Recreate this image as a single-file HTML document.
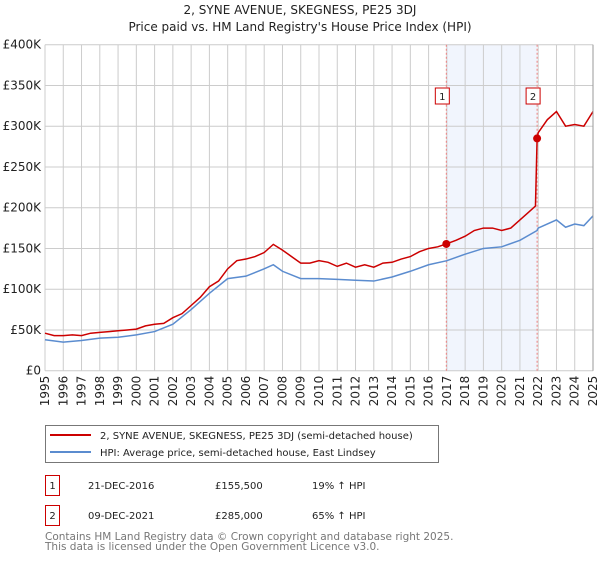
<!DOCTYPE html>
<html><head><meta charset="utf-8"><style>
body{margin:0;background:#fff;font-family:"DejaVu Sans","Liberation Sans",sans-serif;}
svg text{font-family:"DejaVu Sans","Liberation Sans",sans-serif;}
</style></head><body>
<svg id="c" width="600" height="560" viewBox="0 0 600 560">
<text x="300" y="14" text-anchor="middle" font-size="12" fill="#222">2, SYNE AVENUE, SKEGNESS, PE25 3DJ</text>
<text x="300" y="31" text-anchor="middle" font-size="12" fill="#222">Price paid vs. HM Land Registry's House Price Index (HPI)</text>
<g id="plot"></g>
<g>
<rect x="45.5" y="425.5" width="393" height="37" fill="#fff" stroke="#777"/>
<line x1="50" y1="435" x2="91" y2="435" stroke="#cc0000" stroke-width="2"/>
<text x="100" y="439" font-size="10" fill="#222">2, SYNE AVENUE, SKEGNESS, PE25 3DJ (semi-detached house)</text>
<line x1="50" y1="452" x2="91" y2="452" stroke="#5b8ccf" stroke-width="2"/>
<text x="100" y="456" font-size="10" fill="#222">HPI: Average price, semi-detached house, East Lindsey</text>
</g>
<g font-size="10" fill="#222">
<rect x="45.5" y="475.5" width="14" height="20" fill="#fff" stroke="#cc0000"/>
<text x="52.5" y="489" text-anchor="middle">1</text>
<text x="88" y="489">21-DEC-2016</text><text x="215" y="489">£155,500</text><text x="312" y="489">19% ↑ HPI</text>
<rect x="45.5" y="505.5" width="14" height="20" fill="#fff" stroke="#cc0000"/>
<text x="52.5" y="519" text-anchor="middle">2</text>
<text x="88" y="519">09-DEC-2021</text><text x="215" y="519">£285,000</text><text x="312" y="519">65% ↑ HPI</text>
</g>
<text x="45" y="540" font-size="10.5" fill="#777">Contains HM Land Registry data © Crown copyright and database right 2025.</text>
<text x="45" y="550" font-size="10.5" fill="#777">This data is licensed under the Open Government Licence v3.0.</text>
</svg>
<script>
const yTicks=[0,50000,100000,150000,200000,250000,300000,350000,400000];
const yTickLabels=["£0","£50K","£100K","£150K","£200K","£250K","£300K","£350K","£400K"];
const xYears=[1995,1996,1997,1998,1999,2000,2001,2002,2003,2004,2005,2006,2007,2008,2009,2010,2011,2012,2013,2014,2015,2016,2017,2018,2019,2020,2021,2022,2023,2024,2025];
const redT=[1995,1995.5,1996,1996.5,1997,1997.5,1998,1998.5,1999,1999.5,2000,2000.5,2001,2001.5,2002,2002.5,2003,2003.5,2004,2004.5,2005,2005.5,2006,2006.5,2007,2007.5,2008,2008.5,2009,2009.5,2010,2010.5,2011,2011.5,2012,2012.5,2013,2013.5,2014,2014.5,2015,2015.5,2016,2016.5,2016.97,2017.5,2018,2018.5,2019,2019.5,2020,2020.5,2021,2021.5,2021.85,2021.94,2022,2022.5,2023,2023.5,2024,2024.5,2025];
const redV=[46,43,43,44,43,46,47,48,49,50,51,55,57,58,65,70,80,90,103,110,125,135,137,140,145,155,148,140,132,132,135,133,128,132,127,130,127,132,133,137,140,146,150,152,155.5,160,165,172,175,175,172,175,185,195,202,285,292,308,318,300,302,300,318];
const blueT=[1995,1996,1997,1998,1999,2000,2001,2002,2003,2004,2005,2006,2007,2007.5,2008,2009,2010,2011,2012,2013,2014,2015,2016,2017,2018,2019,2020,2021,2021.94,2022,2023,2023.5,2024,2024.5,2025];
const blueV=[38,35,37,40,41,44,48,57,75,95,113,116,125,130,122,113,113,112,111,110,115,122,130,135,143,150,152,160,172,175,185,176,180,178,190];
const saleT=[2016.97,2021.94];
const saleV=[155.5,285];
const saleLabels=["1","2"];
const X0=45,X1=593,Y0=370.7,Y1=44.7;
const xs=t=>X0+(t-1995)/30*(X1-X0);
const ys=v=>Y0-v/400000*(Y0-Y1);
const NS="http://www.w3.org/2000/svg";
const g=document.getElementById('plot');
function mk(tag,attrs,parent){const e=document.createElementNS(NS,tag);for(const k in attrs)e.setAttribute(k,attrs[k]);(parent||g).appendChild(e);return e;}
const sh=mk('rect',{x:xs(saleT[0]),y:Y1,width:xs(saleT[1])-xs(saleT[0]),height:Y0-Y1,fill:'#eef2fc',opacity:0.8});


yTicks.forEach((v,i)=>{
 const l=mk('line',{x1:X0,x2:X1,y1:ys(v),y2:ys(v),stroke:'#ccc'});
 
 
 const t=mk('text',{x:X0-4,y:ys(v)+4,'text-anchor':'end','font-size':12,fill:'#222'});
 t.textContent=yTickLabels[i];
 
 
});
xYears.forEach(yr=>{
 const l=mk('line',{x1:xs(yr),x2:xs(yr),y1:Y1,y2:Y0,stroke:'#ccc'});
 
 
 const t=mk('text',{x:0,y:0,'text-anchor':'end','font-size':12,fill:'#222',transform:`translate(${xs(yr)+4},${Y0+5}) rotate(-90)`});
 t.textContent=yr;
 
 
});
saleT.forEach((t,i)=>{
 const l=mk('line',{x1:xs(t),x2:xs(t),y1:Y1,y2:Y0,stroke:'#f08080','stroke-dasharray':'2,2'});
 
 
 const r=mk('rect',{x:xs(t)-11,y:88,width:14,height:16,fill:'#fff',stroke:'#cc0000'});
 
 
 const tx=mk('text',{x:xs(t)-4,y:100,'text-anchor':'middle','font-size':10,fill:'#222'});
 tx.textContent=saleLabels[i];
 
 
});
const bp=mk('polyline',{points:blueT.map((t,i)=>xs(t)+','+ys(blueV[i]*1000)).join(' '),fill:'none',stroke:'#5b8ccf','stroke-width':1.5});


const rp=mk('polyline',{points:redT.map((t,i)=>xs(t)+','+ys(redV[i]*1000)).join(' '),fill:'none',stroke:'#cc0000','stroke-width':1.5});


saleT.forEach((t,i)=>{
 const c=mk('circle',{cx:xs(t),cy:ys(saleV[i]*1000),r:4,fill:'#cc0000'});
 
 
});
const ax=mk('line',{x1:X1,x2:X1,y1:Y1,y2:Y0,stroke:'#999'});


</script>
</body></html>
